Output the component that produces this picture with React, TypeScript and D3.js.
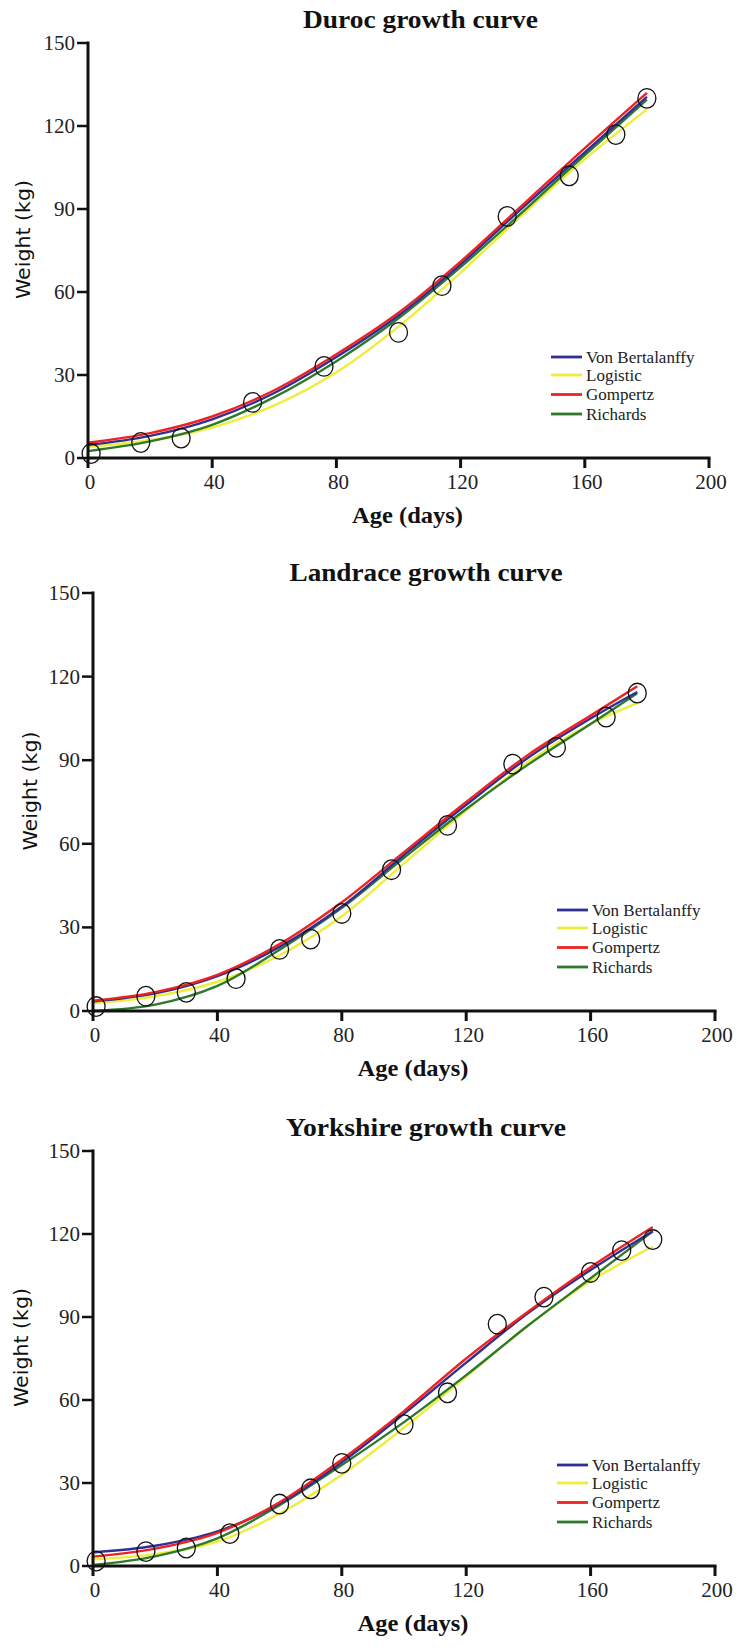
import React from "react";
import * as d3 from "d3";

// ---------- data ----------
const xTicks = [0, 40, 80, 120, 160, 200];
const yTicks = [0, 30, 60, 90, 120, 150];
const seriesNames = ["Von Bertalanffy", "Logistic", "Gompertz", "Richards"];
const seriesColors = ["#2f2f95", "#eeee3a", "#ee2222", "#2f7a2a"];

// Duroc
const durocObsAge = [1, 17, 30, 53, 76, 100, 114, 135, 155, 170, 180];
const durocObsWt = [1.6, 5.6, 7.2, 20.1, 33.1, 45.4, 62.3, 87.3, 102, 116.9, 130];
const durocCurveAge = [0, 20, 40, 60, 80, 100, 120, 140, 160, 180];
const durocVB = [4.7, 8, 14, 23.5, 36.5, 51.5, 70, 90.5, 110.5, 130.5];
const durocLog = [4, 6.5, 11, 19, 31, 47.5, 67, 88, 108, 126];
const durocGom = [5.5, 9, 15, 24.5, 37.5, 52.5, 71, 91.5, 112, 132];
const durocRich = [2.5, 6, 12, 22, 35, 50.5, 69, 89, 109.5, 129.5];

// Landrace
const landObsAge = [1, 17, 30, 46, 60, 70, 80, 96, 114, 135, 149, 165, 175];
const landObsWt = [1.6, 5.3, 6.7, 11.6, 22.1, 25.8, 35, 50.7, 66.6, 88.6, 94.6, 105.5, 114.1];
const landCurveAge = [0, 20, 40, 60, 80, 100, 120, 140, 160, 175];
const landVB = [3.4, 6.3, 12.5, 23, 37.5, 56, 74, 91, 105, 114.5];
const landLog = [2.8, 5.3, 10.5, 20, 34, 53, 72, 89.5, 103, 110.5];
const landGom = [3.7, 6.8, 13, 24, 39, 57, 75, 92, 106, 116.5];
const landRich = [0, 2.3, 9, 22, 37, 55, 72.5, 88.5, 103, 114];

// Yorkshire
const yorkObsAge = [1, 17, 30, 44, 60, 70, 80, 100, 114, 130, 145, 160, 170, 180];
const yorkObsWt = [1.8, 5.2, 6.5, 11.7, 22.4, 27.9, 37.1, 51.1, 62.6, 87.4, 97.2, 106.1, 114, 118];
const yorkCurveAge = [0, 20, 40, 60, 80, 100, 120, 140, 160, 180];
const yorkVB = [4.9, 7.3, 12.5, 22.5, 37.5, 55, 73.5, 91.5, 107, 121];
const yorkLog = [2.4, 4.3, 8.8, 19, 33, 50, 68.5, 87, 103, 115.5];
const yorkGom = [3.4, 6.3, 12, 23, 38.5, 56, 75, 92, 108, 122.5];
const yorkRich = [0.4, 3.5, 10, 22, 36.5, 52, 69, 87, 104, 121];

type Panel = {
  title: string;
  titleY: number;
  titleW: number;
  x0: number;
  x1: number;
  yTop: number;
  yBot: number;
  ylabX: number;
  legX: number;
  obsAge: number[];
  obsWt: number[];
  curveAge: number[];
  curves: number[][]; // VB, Log, Gom, Rich
};

const panels: Panel[] = [
  {
    title: "Duroc growth curve", titleY: 28, titleW: 235,
    x0: 88, x1: 709, yTop: 43, yBot: 458, ylabX: 23, legX: 551,
    obsAge: durocObsAge, obsWt: durocObsWt, curveAge: durocCurveAge,
    curves: [durocVB, durocLog, durocGom, durocRich],
  },
  {
    title: "Landrace growth curve", titleY: 581, titleW: 273,
    x0: 93, x1: 715, yTop: 593, yBot: 1011, ylabX: 30, legX: 557,
    obsAge: landObsAge, obsWt: landObsWt, curveAge: landCurveAge,
    curves: [landVB, landLog, landGom, landRich],
  },
  {
    title: "Yorkshire growth curve", titleY: 1136, titleW: 280,
    x0: 93, x1: 715, yTop: 1151, yBot: 1566, ylabX: 21, legX: 557,
    obsAge: yorkObsAge, obsWt: yorkObsWt, curveAge: yorkCurveAge,
    curves: [yorkVB, yorkLog, yorkGom, yorkRich],
  },
];

const drawOrder = [1, 3, 0, 2];
const serif = "'Liberation Serif', 'Times New Roman', serif";

function PanelChart({ p }: { p: Panel }) {
  const x = d3.scaleLinear().domain([0, 200]).range([p.x0, p.x1]);
  const y = d3.scaleLinear().domain([0, 150]).range([p.yBot, p.yTop]);
  const line = d3
    .line<[number, number]>()
    .x((d) => x(d[0]))
    .y((d) => y(d[1]))
    .curve(d3.curveCatmullRom.alpha(0.5));
  const titleCx = (p.x0 + p.x1) / 2 + 22;
  const ageCx = (p.x0 + p.x1) / 2 + 9;
  const legRows = [-101, -83, -63.5, -44];
  return (
    <g>
      <text
        x={titleCx}
        y={p.titleY}
        textAnchor="middle"
        fontFamily={serif}
        fontWeight="bold"
        fontSize={25}
        textLength={p.titleW}
        lengthAdjust="spacingAndGlyphs"
        fill="#111"
      >
        {p.title}
      </text>
      {/* curves */}
      {drawOrder.map((si) => (
        <path
          key={si}
          d={line(p.curveAge.map((a, i) => [a, p.curves[si][i]]) as [number, number][]) || ""}
          fill="none"
          stroke={seriesColors[si]}
          strokeWidth={2.4}
        />
      ))}
      {/* observations */}
      {p.obsAge.map((a, i) => (
        <ellipse
          key={i}
          cx={x(a)}
          cy={y(p.obsWt[i])}
          rx={9}
          ry={9.8}
          fill="none"
          stroke="#111"
          strokeWidth={1.3}
        />
      ))}
      {/* axes */}
      <line x1={p.x0} x2={p.x1 + 1.5} y1={p.yBot} y2={p.yBot} stroke="#111" strokeWidth={3} />
      <line x1={p.x0} x2={p.x0} y1={p.yTop - 1.5} y2={p.yBot + 1.5} stroke="#111" strokeWidth={3} />
      {yTicks.map((t) => (
        <g key={"y" + t}>
          <line x1={p.x0 - 11} x2={p.x0} y1={y(t)} y2={y(t)} stroke="#111" strokeWidth={2.5} />
          <text
            x={p.x0 - 13}
            y={y(t) + 7}
            textAnchor="end"
            fontFamily={serif}
            fontSize={21}
            fill="#222"
          >
            {t}
          </text>
        </g>
      ))}
      {xTicks.map((t) => (
        <g key={"x" + t}>
          <line x1={x(t)} x2={x(t)} y1={p.yBot} y2={p.yBot + 10} stroke="#111" strokeWidth={3} />
          <text
            x={x(t) + 2}
            y={p.yBot + 31}
            textAnchor="middle"
            fontFamily={serif}
            fontSize={21}
            fill="#222"
          >
            {t}
          </text>
        </g>
      ))}
      <text
        x={ageCx}
        y={p.yBot + 65}
        textAnchor="middle"
        fontFamily={serif}
        fontWeight="bold"
        fontSize={23}
        textLength={111}
        lengthAdjust="spacingAndGlyphs"
        fill="#111"
      >
        Age (days)
      </text>
      <text
        transform={`translate(${p.ylabX},${(p.yTop + p.yBot) / 2 - 11}) rotate(-90)`}
        textAnchor="middle"
        dominantBaseline="central"
        fontFamily="'DejaVu Sans', Verdana, sans-serif"
        fontSize={19}
        textLength={119}
        lengthAdjust="spacingAndGlyphs"
        fill="#111"
      >
        Weight (kg)
      </text>
      {/* legend */}
      {seriesNames.map((n, i) => (
        <g key={n}>
          <line
            x1={p.legX}
            x2={p.legX + 31}
            y1={p.yBot + legRows[i]}
            y2={p.yBot + legRows[i]}
            stroke={seriesColors[i]}
            strokeWidth={2.8}
          />
          <text
            x={p.legX + 35}
            y={p.yBot + legRows[i] + 5.5}
            fontFamily={serif}
            fontSize={17}
            fill="#222"
          >
            {n}
          </text>
        </g>
      ))}
    </g>
  );
}

export default function App() {
  return (
    <svg
      width={739}
      height={1650}
      style={{ position: "absolute", left: 0, top: 0, background: "#fff" }}
    >
      <rect width={739} height={1650} fill="#fff" />
      {panels.map((p) => (
        <PanelChart key={p.title} p={p} />
      ))}
    </svg>
  );
}
